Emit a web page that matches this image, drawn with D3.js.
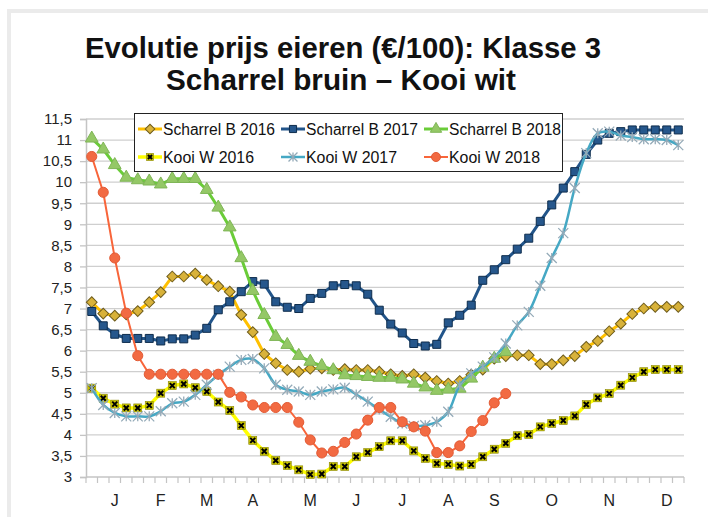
<!DOCTYPE html>
<html>
<head>
<meta charset="utf-8">
<script src="https://cdn.jsdelivr.net/npm/d3@7"></script>
<style>
  body { margin: 0; background: #fff; }
  svg { display: block; font-family: "Liberation Sans", Arial, sans-serif; }
</style>
</head>
<body>
<svg id="chart" width="708" height="517"></svg>
<script>
// weeks of the year (52), month initials shown on some of them
var weeks = d3.range(52);
var monthWeeks = [2, 6, 10, 14, 19, 23, 27, 31, 35, 40, 45, 50];
var monthLabels = ["J", "F", "M", "A", "M", "J", "J", "A", "S", "O", "N", "D"];
var yTicks = d3.range(3, 11.51, 0.5);

var seriesNames = ["Scharrel B 2016", "Scharrel B 2017", "Scharrel B 2018",
                   "Kooi W 2016", "Kooi W 2017", "Kooi W 2018"];

var scharrelB2016 = [7.15, 6.88, 6.83, 6.86, 6.94, 7.15, 7.39, 7.76, 7.76, 7.83,
    7.68, 7.53, 7.40, 6.85, 6.44, 5.92, 5.70, 5.54, 5.50, 5.57,
    5.58, 5.54, 5.56, 5.54, 5.54, 5.50, 5.44, 5.40, 5.44, 5.36,
    5.28, 5.22, 5.28, 5.43, 5.55, 5.81, 5.87, 5.89, 5.89, 5.68,
    5.68, 5.77, 5.87, 6.09, 6.23, 6.46, 6.64, 6.87, 7.00, 7.04,
    7.04, 7.04];
var scharrelB2017 = [6.93, 6.59, 6.39, 6.29, 6.29, 6.29, 6.23, 6.28, 6.28, 6.37,
    6.53, 6.97, 7.16, 7.40, 7.64, 7.58, 7.16, 7.03, 7.00, 7.24,
    7.36, 7.54, 7.57, 7.54, 7.34, 6.96, 6.63, 6.42, 6.17, 6.11,
    6.15, 6.66, 6.84, 7.08, 7.67, 7.92, 8.16, 8.41, 8.67, 9.07,
    9.46, 9.86, 10.25, 10.66, 11.00, 11.16, 11.20, 11.24, 11.24, 11.24,
    11.24, 11.24];
var scharrelB2018 = [11.04, 10.78, 10.41, 10.11, 10.05, 10.02, 9.95, 10.08, 10.08, 10.08,
    9.82, 9.40, 8.93, 8.20, 7.42, 6.85, 6.33, 6.14, 5.88, 5.74,
    5.64, 5.54, 5.42, 5.40, 5.38, 5.36, 5.36, 5.32, 5.22, 5.13,
    5.05, 5.08, 5.10, 5.34, 5.60, 5.81, 5.97];
var kooiW2016 = [5.11, 4.87, 4.73, 4.64, 4.64, 4.70, 4.99, 5.17, 5.21, 5.12,
    5.03, 4.78, 4.58, 4.22, 3.87, 3.61, 3.39, 3.27, 3.17, 3.06,
    3.07, 3.25, 3.25, 3.48, 3.58, 3.72, 3.86, 3.86, 3.62, 3.44,
    3.32, 3.30, 3.26, 3.30, 3.48, 3.66, 3.80, 3.98, 4.01, 4.19,
    4.27, 4.34, 4.45, 4.72, 4.88, 4.98, 5.18, 5.36, 5.50, 5.55,
    5.55, 5.55];
var kooiW2017 = [5.11, 4.71, 4.52, 4.44, 4.44, 4.44, 4.56, 4.75, 4.79, 4.95,
    5.19, 5.42, 5.62, 5.78, 5.80, 5.58, 5.19, 5.07, 5.03, 4.95,
    5.03, 5.08, 5.12, 4.96, 4.79, 4.60, 4.43, 4.27, 4.21, 4.23,
    4.31, 4.55, 5.18, 5.46, 5.62, 5.84, 6.17, 6.60, 6.92, 7.54,
    8.20, 8.79, 9.86, 10.69, 11.16, 11.20, 11.11, 11.07, 11.02, 11.02,
    11.00, 10.88];
var kooiW2018 = [10.61, 9.76, 8.20, 6.89, 5.88, 5.44, 5.44, 5.44, 5.44, 5.44,
    5.44, 5.44, 5.01, 4.90, 4.71, 4.65, 4.65, 4.65, 4.30, 3.88,
    3.57, 3.61, 3.82, 4.02, 4.35, 4.65, 4.65, 4.31, 4.19, 4.09,
    3.58, 3.58, 3.74, 4.08, 4.34, 4.76, 4.98];

var seriesValues = [scharrelB2016, scharrelB2017, scharrelB2018, kooiW2016, kooiW2017, kooiW2018];

// look of each series
var styles = [
    {line: "#ffc000", width: 3,   marker: "diamond",  fill: "#d8b23a", stroke: "#6e5c1c", smooth: false},
    {line: "#22558a", width: 3,   marker: "square",   fill: "#26578c", stroke: "#0e2c4c", smooth: false},
    {line: "#6acc38", width: 3,   marker: "triangle", fill: "#94c866", stroke: "#7fb556", smooth: false},
    {line: "#ffff00", width: 3.5, marker: "x",        fill: "#c9c400", stroke: "#000",    smooth: false},
    {line: "#45a8c4", width: 2.5, marker: "star",     fill: "none",    stroke: "#94aab8", smooth: true},
    {line: "#f8653a", width: 2,   marker: "circle",   fill: "#f26a42", stroke: "#e25a34", smooth: false}
];

var svg = d3.select("#chart");
var margin = {left: 86, right: 684, top: 119, bottom: 477};

// outer frame
svg.append("rect")
    .attr("x", 9).attr("y", 11)
    .attr("width", 760).attr("height", 560)
    .attr("fill", "#fff")
    .attr("stroke", "#ebebeb")
    .attr("stroke-width", 4);

// title
var title = svg.append("g")
    .attr("font-weight", "bold")
    .attr("font-size", "29px")
    .attr("fill", "#111")
    .attr("text-anchor", "middle");
title.append("text").attr("x", 343).attr("y", 58)
    .attr("textLength", 516).attr("lengthAdjust", "spacingAndGlyphs")
    .text("Evolutie prijs eieren (€/100): Klasse 3");
title.append("text").attr("x", 341).attr("y", 90)
    .attr("textLength", 350).attr("lengthAdjust", "spacingAndGlyphs")
    .text("Scharrel bruin – Kooi wit");

var x = d3.scaleBand().domain(weeks).range([margin.left, margin.right]);
var y = d3.scaleLinear().domain([3, 11.5]).range([margin.bottom, margin.top]);
var cx = function(i) { return x(i) + x.bandwidth() / 2; };

// gridlines
svg.append("g").selectAll("line")
    .data(yTicks.slice(1))
    .join("line")
    .attr("x1", margin.left).attr("x2", margin.right)
    .attr("y1", function(d) { return y(d); })
    .attr("y2", function(d) { return y(d); })
    .attr("stroke", "#cfcfcf")
    .attr("stroke-width", 1.3);

// y axis
var axisY = d3.axisLeft(y)
    .tickValues(yTicks)
    .tickSize(6)
    .tickPadding(8)
    .tickFormat(function(d) { return String(d).replace(".", ","); });
var gy = svg.append("g")
    .attr("transform", "translate(" + margin.left + ",0)")
    .call(axisY);
gy.select(".domain").attr("stroke", "#c4c4c4").attr("stroke-width", 1.5);
gy.selectAll(".tick line").attr("stroke", "#c4c4c4").attr("stroke-width", 1.3);
gy.selectAll("text")
    .attr("font-family", "Liberation Sans, Arial, sans-serif")
    .attr("font-size", "15px")
    .attr("fill", "#222");

// x axis: baseline, week separators, month letters
var gx = svg.append("g");
gx.append("line")
    .attr("x1", margin.left).attr("x2", margin.right)
    .attr("y1", y(3)).attr("y2", y(3))
    .attr("stroke", "#c4c4c4").attr("stroke-width", 1.5);
gx.selectAll(".wk")
    .data(weeks.concat([52]))
    .join("line")
    .attr("class", "wk")
    .attr("x1", function(d) { return d < 52 ? x(d) : x(51) + x.bandwidth(); })
    .attr("x2", function(d) { return d < 52 ? x(d) : x(51) + x.bandwidth(); })
    .attr("y1", y(3)).attr("y2", y(3) + 6)
    .attr("stroke", "#c4c4c4").attr("stroke-width", 1.2);
gx.selectAll(".mon")
    .data(monthWeeks)
    .join("text")
    .attr("class", "mon")
    .attr("x", function(d) { return cx(d); })
    .attr("y", y(3) + 29)
    .attr("text-anchor", "middle")
    .attr("font-size", "16px")
    .attr("fill", "#222")
    .text(function(d, i) { return monthLabels[i]; });

// marker drawing
function drawMarker(g, type, s, size) {
    if (type === "diamond") {
        g.append("path")
            .attr("d", d3.symbol(d3.symbolSquare, 58 * size)())
            .attr("transform", "rotate(45)")
            .attr("fill", s.fill).attr("stroke", s.stroke).attr("stroke-width", 1);
    } else if (type === "square") {
        g.append("path")
            .attr("d", d3.symbol(d3.symbolSquare, 64 * size)())
            .attr("fill", s.fill).attr("stroke", s.stroke).attr("stroke-width", 1);
    } else if (type === "triangle") {
        g.append("path")
            .attr("d", d3.symbol(d3.symbolTriangle, 70 * size)())
            .attr("fill", s.fill).attr("stroke", s.stroke).attr("stroke-width", 1);
    } else if (type === "circle") {
        g.append("path")
            .attr("d", d3.symbol(d3.symbolCircle, 80 * size)())
            .attr("fill", s.fill).attr("stroke", s.stroke).attr("stroke-width", 1);
    } else if (type === "x") {
        var h = 4 * Math.sqrt(size);
        g.append("rect")
            .attr("x", -h).attr("y", -h).attr("width", 2 * h).attr("height", 2 * h)
            .attr("fill", s.fill).attr("stroke", "#8a8600").attr("stroke-width", 0.6);
        g.append("path")
            .attr("d", "M" + (-h + 1.5) + "," + (-h + 1.5) + "L" + (h - 1.5) + "," + (h - 1.5) +
                       "M" + (-h + 1.5) + "," + (h - 1.5) + "L" + (h - 1.5) + "," + (-h + 1.5))
            .attr("stroke", "#000").attr("stroke-width", 2);
    } else if (type === "star") {
        var r = 5 * Math.sqrt(size);
        g.append("path")
            .attr("d", "M" + (-r) + "," + (-r) + "L" + r + "," + r +
                       "M" + (-r) + "," + r + "L" + r + "," + (-r) +
                       "M0," + (-r) + "L0," + r)
            .attr("stroke", s.stroke).attr("stroke-width", 1.3).attr("fill", "none");
    }
}

// series
seriesValues.forEach(function(vals, k) {
    var s = styles[k];
    var pts = vals.map(function(v, i) { return {i: i, v: v}; });
    var line = d3.line()
        .x(function(d) { return cx(d.i); })
        .y(function(d) { return y(d.v); });
    if (s.smooth) line.curve(d3.curveCatmullRom.alpha(0.5));

    var g = svg.append("g").attr("class", "series");
    g.append("path")
        .datum(pts)
        .attr("d", line)
        .attr("fill", "none")
        .attr("stroke", s.line)
        .attr("stroke-width", s.width)
        .attr("stroke-linejoin", "round");

    g.selectAll(".m")
        .data(pts)
        .join("g")
        .attr("class", "m")
        .attr("transform", function(d) { return "translate(" + cx(d.i) + "," + y(d.v) + ")"; })
        .each(function() { drawMarker(d3.select(this), s.marker, s, 1); });
});

// legend
var legend = svg.append("g");
legend.append("rect")
    .attr("x", 134.5).attr("y", 113.5)
    .attr("width", 428).attr("height", 58)
    .attr("fill", "#fff")
    .attr("stroke", "#222").attr("stroke-width", 1);

var legCols = [138, 281, 424];
var legRows = [129, 157];
seriesNames.forEach(function(name, k) {
    var s = styles[k];
    var lx = legCols[k % 3], ly = legRows[Math.floor(k / 3)];
    var item = legend.append("g").attr("transform", "translate(" + lx + "," + ly + ")");
    item.append("line")
        .attr("x1", 0).attr("x2", 24)
        .attr("stroke", s.line).attr("stroke-width", s.width);
    var mk = item.append("g").attr("transform", "translate(12,0)");
    drawMarker(mk, s.marker, s, 0.8);
    item.append("text")
        .attr("x", 25).attr("y", 6)
        .attr("font-size", "16px")
        .attr("fill", "#111")
        .attr("textLength", name.indexOf("Kooi") === 0 ? 91 : 112)
        .attr("lengthAdjust", "spacingAndGlyphs")
        .text(name);
});
</script>
</body>
</html>
